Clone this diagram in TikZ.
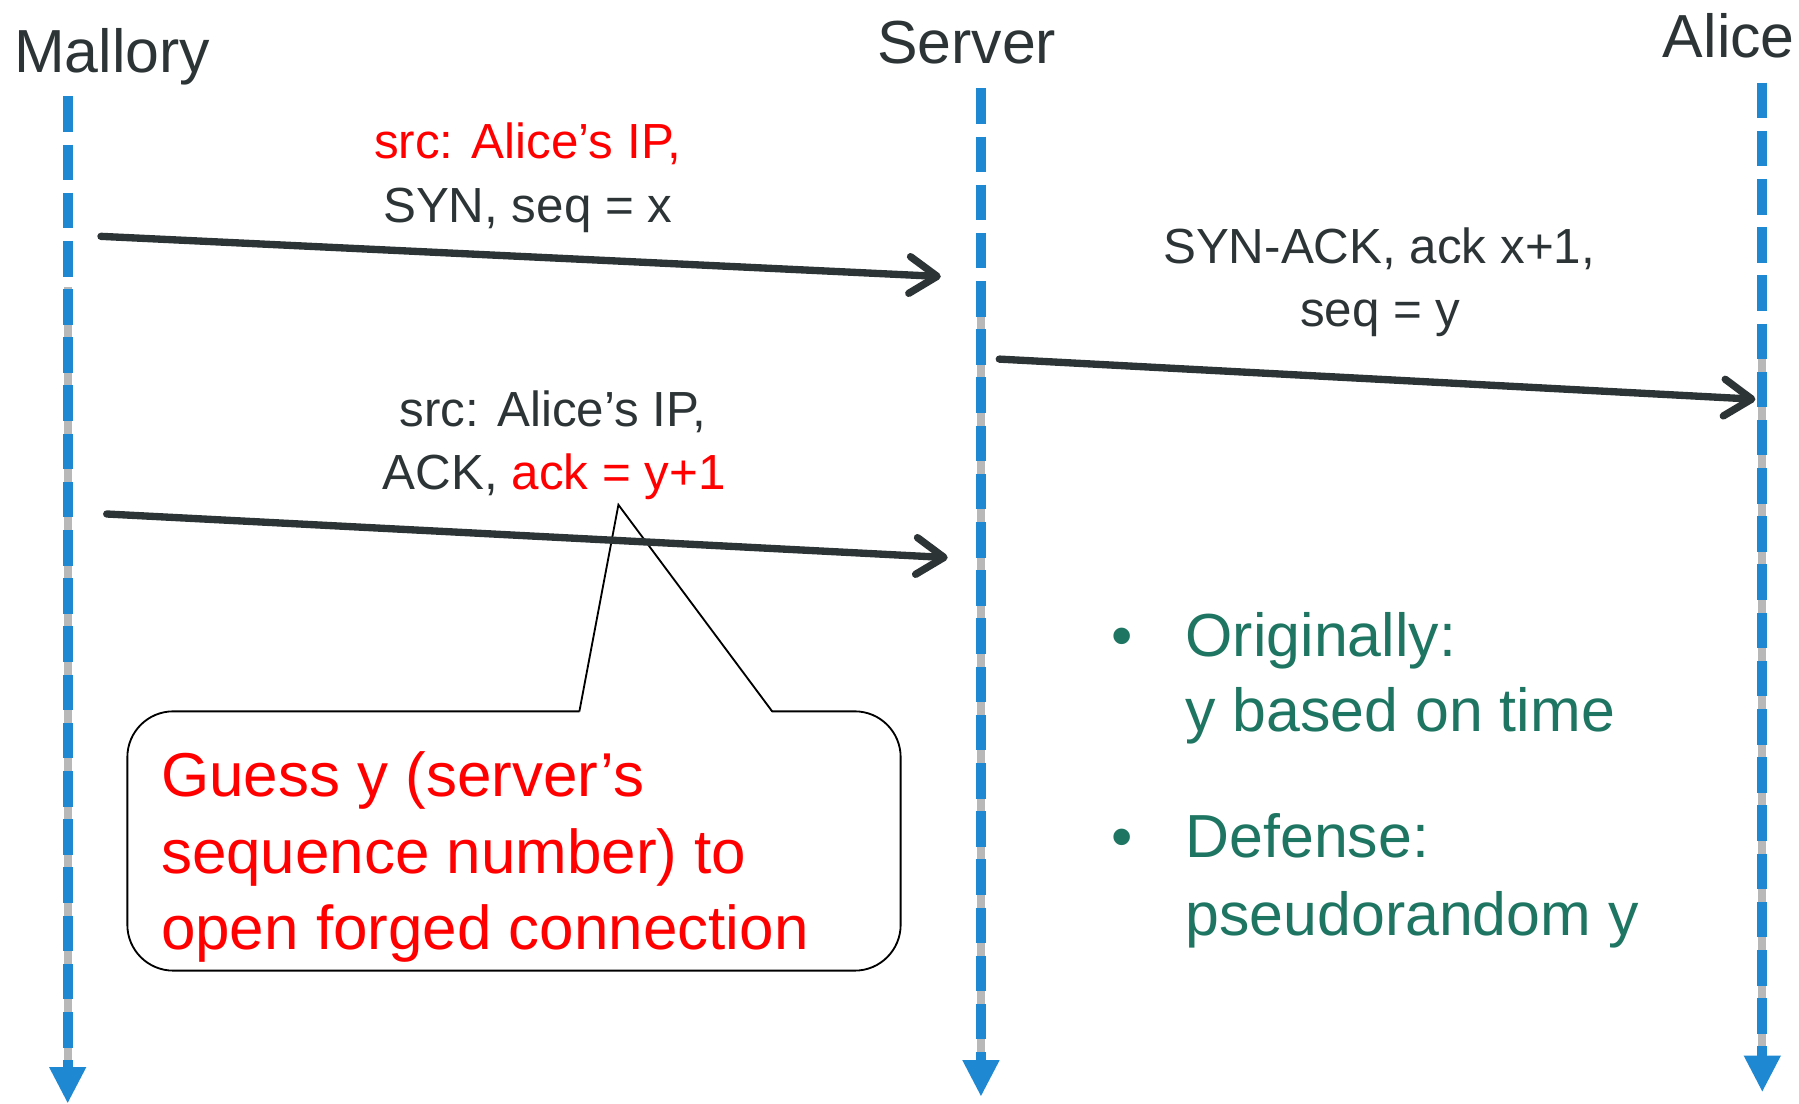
\documentclass[tikz,border=0pt]{standalone}
\usepackage{fontspec}
\setmainfont{Liberation Sans}
\usetikzlibrary{arrows.meta}
\definecolor{lifeblue}{RGB}{30,136,210}
\definecolor{inkdark}{RGB}{45,52,54}
\definecolor{msgred}{RGB}{255,0,0}
\definecolor{notegreen}{RGB}{30,117,98}
\tikzset{
  actor/.style={anchor=base west, inner sep=0pt, text=inkdark, font=\fontsize{26.5pt}{32pt}\selectfont},
  lifeline/.style={draw=lifeblue, line width=4.5pt, dash pattern=on 15.5pt off 5.5pt, -{Triangle[length=16pt,width=15pt]}},
  lifeshadow/.style={draw=black!28, line width=3.5pt},
  msg/.style={draw=inkdark, line width=3.2pt, line cap=round, -{Straight Barb[length=12pt,width=16pt,round]}},
  msglabel/.style={anchor=base, inner sep=0pt, text=inkdark, font=\fontsize{21.5pt}{28pt}\selectfont},
  calloutbox/.style={draw=black, line width=0.8pt, rounded corners=20pt, minimum width=337pt, minimum height=113pt, inner sep=0pt},
  callouttext/.style={anchor=base west, inner sep=0pt, text=msgred, font=\fontsize{27pt}{33pt}\selectfont},
  note/.style={anchor=base west, inner sep=0pt, text=notegreen, font=\fontsize{26.5pt}{33pt}\selectfont},
}
\begin{document}
\begin{tikzpicture}[x=0.5pt,y=-0.5pt]
\useasboundingbox (0,0) rectangle (1568,962);
% lifelines
\coordinate (mtop) at (59,84);   \coordinate (mbot) at (59,962);
\coordinate (stop) at (855,77);  \coordinate (sbot) at (855,956);
\coordinate (atop) at (1536,72); \coordinate (abot) at (1536,952);
\draw[lifeshadow] (59,250) -- (59,930);
\draw[lifeshadow] (855,250) -- (855,924);
\draw[lifeshadow] (1536,300) -- (1536,920);
\draw[lifeline] (mtop) -- (mbot);
\draw[lifeline] (stop) -- (sbot);
\draw[lifeline] (atop) -- (abot);
% callout
\node[calloutbox] (guess) at (448,733) {};
\fill[white] (505,621.5) -- (539,440) -- (673,621.5) -- cycle;
\coordinate (ptip) at (539,440);
\coordinate (pl) at (505,620);
\coordinate (pr) at (673,620);
\draw[line width=0.8pt] (pl) -- (ptip) -- (pr);
% messages
\coordinate (m1s) at (88,206);  \coordinate (m1e) at (820,241);
\coordinate (m2s) at (871,313); \coordinate (m2e) at (1530,348);
\coordinate (m3s) at (93,448);  \coordinate (m3e) at (826,486);
\draw[msg] (m1s) -- (m1e);
\draw[msg] (m2s) -- (m2e);
\draw[msg] (m3s) -- (m3e);
% actor labels
\node[actor] (mallory) at (12,63) {Mallory};
\node[actor] (server) at (764,55) {Server};
\node[actor] (alice) at (1449,50) {Alice};
% message labels
\node[msglabel, text=msgred] (l1a) at (460,138) {src: Alice’s IP,};
\node[msglabel] (l1b) at (460,194) {SYN, seq = x};
\node[msglabel] (l2a) at (1202,230) {SYN-ACK, ack x+1,};
\node[msglabel] (l2b) at (1203,285) {seq = y};
\node[msglabel] (l3a) at (482,372) {src: Alice’s IP,};
\node[msglabel] (l3b) at (483,427) {ACK, \textcolor{msgred}{ack = y+1}};
% callout text
\node[callouttext] (g1) at (140,694) {Guess y (server’s};
\node[callouttext] (g2) at (140,761) {sequence number) to};
\node[callouttext] (g3) at (140,828) {open forged connection};
% notes
\node[note, anchor=base] (b1) at (978,572) {•};
\node[note] (n1) at (1033,572) {Originally:};
\node[note] (n2) at (1033,638) {y based on time};
\node[note, anchor=base] (b2) at (978,747) {•};
\node[note] (n3) at (1033,747) {Defense:};
\node[note] (n4) at (1033,815) {pseudorandom y};
\end{tikzpicture}
\end{document}
